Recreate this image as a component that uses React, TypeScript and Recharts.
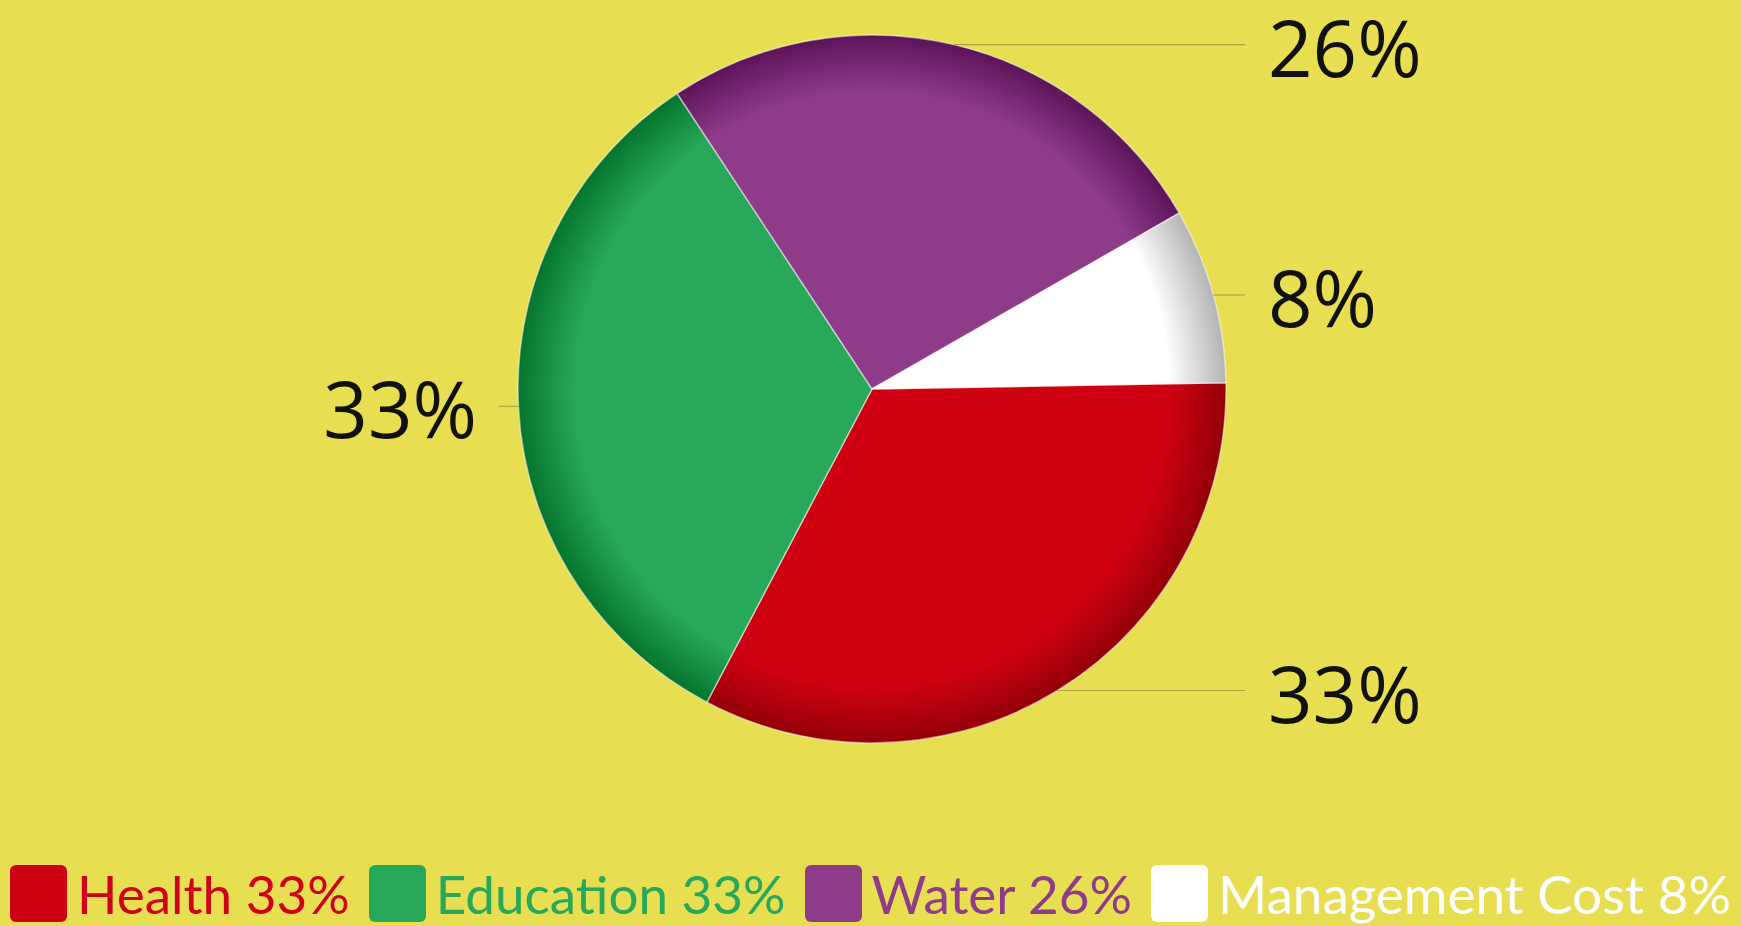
import { Cell, Legend, Pie, PieChart } from 'recharts'

const categories = ['Health', 'Education', 'Water', 'Management Cost']
const shares = [33, 33, 26, 8]
const baseColors = ['#cf0012', '#27a85a', '#8e3b89', '#ffffff']
const rimColors = ['#940008', '#06752e', '#5c1459', '#b4b4b4']
const textColors = ['#d0021b', '#27a85a', '#8e3b89', '#ffffff']

const data = categories.map((name, i) => ({ name, value: shares[i] }))

const W = 1741
const H = 926
const CX = 872
const CY = 389
const R = 354
const RADIAN = Math.PI / 180

function OutsideLabel(props: any) {
  const { cx, cy, midAngle, outerRadius, value } = props
  const cos = Math.cos(-midAngle * RADIAN)
  const sin = Math.sin(-midAngle * RADIAN)
  const x0 = cx + outerRadius * cos
  const y = cy + outerRadius * sin
  const right = cos >= 0
  const x1 = right ? cx + outerRadius + 19 : cx - outerRadius - 19
  const tx = right ? cx + outerRadius + 42 : cx - outerRadius - 41
  return (
    <g>
      <line x1={x0} y1={y} x2={x1} y2={y} stroke="#aba447" strokeWidth={1.2} />
      <text
        x={tx}
        y={y + 2}
        textAnchor={right ? 'start' : 'end'}
        dominantBaseline="central"
        fill="#111"
        style={{ fontFamily: '"Open Sans", sans-serif', fontSize: 78 }}
      >
        {value}%
      </text>
    </g>
  )
}

function LegendContent() {
  return (
    <div style={{ display: 'flex', justifyContent: 'center', alignItems: 'center', gap: 19 }}>
      {categories.map((name, i) => (
        <div key={name} style={{ display: 'flex', alignItems: 'center', gap: 10 }}>
          <div style={{ width: 57, height: 57, borderRadius: 6, background: baseColors[i] }} />
          <span
            style={{
              fontFamily: 'Lato, sans-serif',
              fontSize: 53,
              color: textColors[i],
              lineHeight: '57px',
              whiteSpace: 'nowrap',
            }}
          >
            {name} {shares[i]}%
          </span>
        </div>
      ))}
    </div>
  )
}

export default function App() {
  return (
    <div style={{ position: 'fixed', left: 0, top: 0, width: W, height: H, background: '#e8de52' }}>
      <PieChart width={W} height={H} margin={{ top: 0, right: 0, bottom: 0, left: 0 }}>
        <defs>
          {baseColors.map((c, i) => (
            <radialGradient key={i} id={`rim-${i}`} gradientUnits="userSpaceOnUse" cx={CX} cy={CY} r={R}>
              <stop offset="0%" stopColor={c} />
              <stop offset="84%" stopColor={c} />
              <stop offset="100%" stopColor={rimColors[i]} />
            </radialGradient>
          ))}
        </defs>
        <Pie
          data={data}
          dataKey="value"
          nameKey="name"
          cx={CX}
          cy={CY}
          outerRadius={R}
          startAngle={1}
          endAngle={-359}
          label={OutsideLabel}
          labelLine={false}
          stroke="rgba(255,255,255,0.5)"
          strokeWidth={1.5}
          isAnimationActive={false}
        >
          {data.map((d, i) => (
            <Cell key={d.name} fill={`url(#rim-${i})`} />
          ))}
        </Pie>
        <Legend
          verticalAlign="bottom"
          content={LegendContent}
          wrapperStyle={{ left: 0, width: W, bottom: 4 }}
        />
      </PieChart>
    </div>
  )
}
